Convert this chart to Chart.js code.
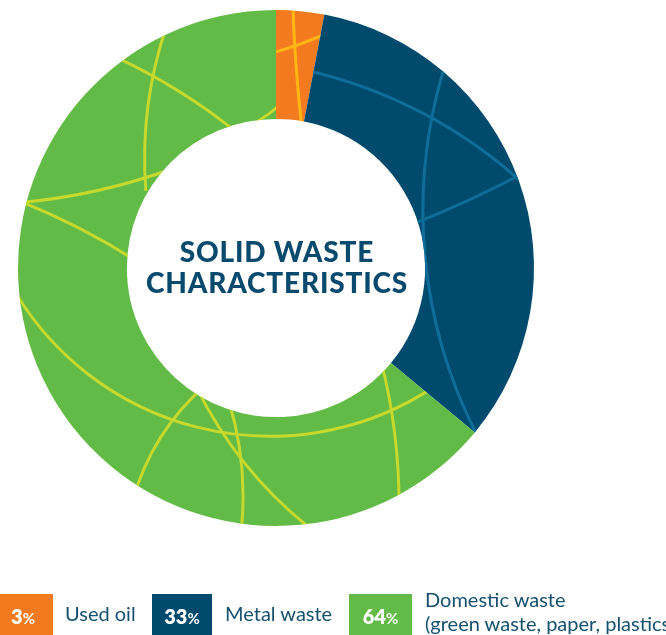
<!DOCTYPE html>
<html>
<head>
<meta charset="utf-8">
<script src="https://cdn.jsdelivr.net/npm/chart.js@4.4.1/dist/chart.umd.min.js"></script>
<style>
  html, body { margin: 0; padding: 0; background: #fff; }
  body { width: 666px; height: 635px; overflow: hidden; position: relative; font-family: Lato, "Open Sans", sans-serif; }
  #chart { position: absolute; left: 0; top: 0; }
  .box { position: absolute; top: 594px; height: 45px; color: #fff; font-weight: 800; font-size: 20px; line-height: 24px; text-align: center; }
  .box span { position: absolute; left: 0; right: 0; top: 10px; }
  .box small { font-size: 15px; font-weight: 700; }
  .lbl { position: absolute; color: #15506f; font-size: 20px; line-height: 24px; white-space: nowrap; }
</style>
</head>
<body>
<canvas id="chart" width="666" height="635"></canvas>
<div id="legend"></div>
<script>
// datos del anillo
const categorias = ['Used oil', 'Metal waste', 'Domestic waste'];
const porcentajes = [3, 33, 64];
const colores = ['#f47a20', '#004a6e', '#62bb46'];
const coloresLinea = ['#fdb614', '#0f6e99', '#c6d92c'];
const titulo = ['SOLID WASTE', 'CHARACTERISTICS'];

// leyenda: caja con porcentaje + texto
const leyenda = [
    { box: [-7, 60], texto: ['Used oil'], x: 65, top: 601 },
    { box: [152, 60], texto: ['Metal waste'], x: 225, top: 601 },
    { box: [349, 63], texto: ['Domestic waste', '(green waste, paper, plastics)'], x: 425, top: 587 }
];

const legend = document.getElementById('legend');
leyenda.forEach((item, i) => {
    const b = document.createElement('div');
    b.className = 'box';
    b.style.left = item.box[0] + 'px';
    b.style.width = item.box[1] + 'px';
    b.style.background = colores[i];
    b.innerHTML = `<span>${porcentajes[i]}<small>%</small></span>`;
    legend.appendChild(b);

    const t = document.createElement('div');
    t.className = 'lbl';
    t.style.left = item.x + 'px';
    t.style.top = item.top + 'px';
    t.innerHTML = item.texto.join('<br>');
    legend.appendChild(t);
});

// lineas decorativas: arcos por 3 puntos (relativos al centro, radio base 258)
const RADIO_BASE = 258;
const decoracion = [
    [0, [17, -257], [20, -203], [25, -148]],
    [0, [0, -216], [22, -223], [43, -231]],
    [1, [167, -196], [147, -48], [200, 165]],
    [1, [38, -196], [154, -151], [240, -91]],
    [1, [240, -91], [193, -68], [147, -48]],
    [2, [-113, -231], [-123, -192], [-131, -91]],
    [2, [-152, -207], [-123, -192], [-46, -141]],
    [2, [4, -163], [-6, -155], [-16, -148]],
    [2, [-249, -66], [-176, -78], [-113, -96]],
    [2, [-249, -64], [-199, -41], [-149, -13]],
    [2, [-254, 35], [-103, 152], [145, 127]],
    [2, [-81, 127], [-103, 152], [-139, 219]],
    [2, [-73, 132], [-36, 189], [30, 257]],
    [2, [-44, 144], [-35, 192], [-34, 255]],
    [2, [108, 105], [120, 177], [123, 227]]
];

function arcoTresPuntos(ctx, a, b, c) {
    const d = 2 * (a[0] * (b[1] - c[1]) + b[0] * (c[1] - a[1]) + c[0] * (a[1] - b[1]));
    if (Math.abs(d) < 1e-6) {
        // casi recta
        ctx.moveTo(a[0] - (c[0] - a[0]) * 0.2, a[1] - (c[1] - a[1]) * 0.2);
        ctx.lineTo(c[0] + (c[0] - a[0]) * 0.2, c[1] + (c[1] - a[1]) * 0.2);
        return;
    }
    const a2 = a[0] * a[0] + a[1] * a[1], b2 = b[0] * b[0] + b[1] * b[1], c2 = c[0] * c[0] + c[1] * c[1];
    const ux = (a2 * (b[1] - c[1]) + b2 * (c[1] - a[1]) + c2 * (a[1] - b[1])) / d;
    const uy = (a2 * (c[0] - b[0]) + b2 * (a[0] - c[0]) + c2 * (b[0] - a[0])) / d;
    const r = Math.hypot(a[0] - ux, a[1] - uy);
    const ang = p => Math.atan2(p[1] - uy, p[0] - ux);
    const TAU = Math.PI * 2;
    const norm = v => ((v % TAU) + TAU) % TAU;
    const t1 = ang(a), t2 = ang(b), t3 = ang(c);
    // sentido horario si el punto medio queda entre inicio y fin
    const horario = norm(t2 - t1) < norm(t3 - t1);
    const extra = 14 / r;
    if (horario) {
        ctx.arc(ux, uy, r, t1 - extra, t3 + extra, false);
    } else {
        ctx.arc(ux, uy, r, t1 + extra, t3 - extra, true);
    }
}

const lineasPlugin = {
    id: 'lineas',
    afterDatasetsDraw(chart) {
        const ctx = chart.ctx;
        const arcos = chart.getDatasetMeta(0).data;
        arcos.forEach((arc, i) => {
            const { x, y, startAngle, endAngle, innerRadius, outerRadius } =
                arc.getProps(['x', 'y', 'startAngle', 'endAngle', 'innerRadius', 'outerRadius'], true);
            const k = outerRadius / RADIO_BASE;
            const pt = p => [x + p[0] * k, y + p[1] * k];
            ctx.save();
            ctx.beginPath();
            ctx.arc(x, y, outerRadius, startAngle, endAngle);
            ctx.arc(x, y, innerRadius, endAngle, startAngle, true);
            ctx.closePath();
            ctx.clip();
            ctx.strokeStyle = coloresLinea[i];
            ctx.lineWidth = 3;
            decoracion.filter(d => d[0] === i).forEach(d => {
                ctx.beginPath();
                arcoTresPuntos(ctx, pt(d[1]), pt(d[2]), pt(d[3]));
                ctx.stroke();
            });
            ctx.restore();
        });
    },
    afterDraw(chart) {
        const ctx = chart.ctx;
        const arc = chart.getDatasetMeta(0).data[0];
        ctx.save();
        ctx.fillStyle = '#084a6e';
        ctx.font = '900 28px Lato';
        ctx.letterSpacing = '0.8px';
        ctx.textAlign = 'center';
        ctx.fillText(titulo[0], arc.x + 1, arc.y - 6);
        ctx.fillText(titulo[1], arc.x + 1, arc.y + 25);
        ctx.restore();
    }
};

new Chart(document.getElementById('chart'), {
    type: 'doughnut',
    data: {
        labels: categorias,
        datasets: [{
            data: porcentajes,
            backgroundColor: colores,
            borderWidth: 0
        }]
    },
    options: {
        responsive: false,
        animation: false,
        cutout: '57.8%',
        layout: { padding: { left: 18, right: 132, top: 10, bottom: 109 } },
        plugins: {
            legend: { display: false },
            tooltip: { enabled: false }
        }
    },
    plugins: [lineasPlugin]
});
</script>
</body>
</html>
